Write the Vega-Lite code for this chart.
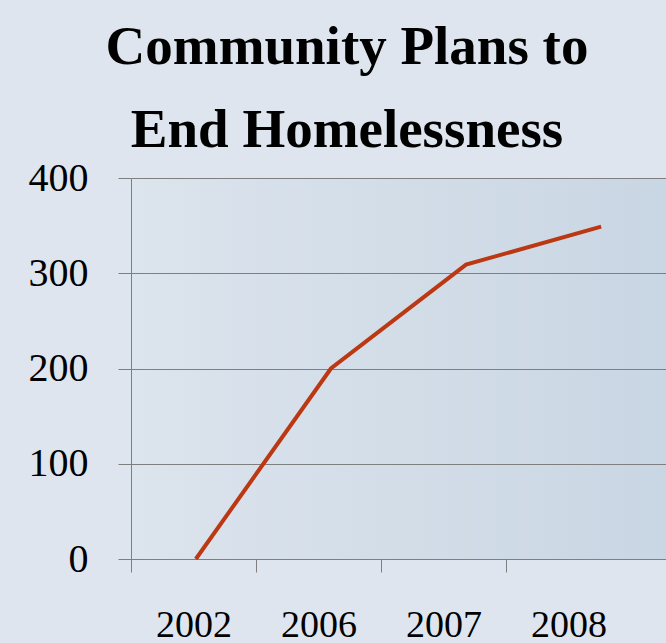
{
  "$schema": "https://vega.github.io/schema/vega-lite/v6.json",
  "width": 535,
  "height": 381,
  "autosize": {"type": "none"},
  "padding": {"left": 131, "top": 178, "right": 0, "bottom": 84},
  "background": "#dee5ee",
  "title": {
    "text": ["Community Plans to", "End Homelessness"],
    "font": "Liberation Serif",
    "fontWeight": "bold",
    "fontSize": 55,
    "lineHeight": 83,
    "color": "#000000",
    "anchor": "middle",
    "frame": "bounds",
    "offset": -1
  },
  "config": {
    "view": {
      "stroke": null,
      "fill": {
        "gradient": "linear",
        "x1": 0, "y1": 0, "x2": 1, "y2": 0,
        "stops": [
          {"offset": 0, "color": "#dce4ed"},
          {"offset": 1, "color": "#c9d6e3"}
        ]
      }
    }
  },
  "data": {
    "values": [
      {"year": "2002", "plans": 0},
      {"year": "2006", "plans": 200},
      {"year": "2007", "plans": 309},
      {"year": "2008", "plans": 349}
    ]
  },
  "layer": [
    {
      "mark": {"type": "point", "opacity": 0},
      "encoding": {
        "x": {
          "field": "year",
          "type": "ordinal",
          "scale": {"type": "band", "paddingInner": 0, "paddingOuter": 0.14, "align": 0},
          "axis": {
            "title": null,
            "labelAngle": 0,
            "tickBand": "extent",
            "tickSize": 13,
            "tickColor": "#7f7f7f",
            "tickOpacity": {"condition": {"test": "!datum.extra && datum.value === '2008'", "value": 0}, "value": 1},
            "domainColor": "#7f7f7f",
            "labelFont": "Liberation Serif",
            "labelFontSize": 38,
            "labelColor": "#000000",
            "labelPadding": 34,
            "labelBaseline": "top"
          }
        },
        "y": {
          "field": "plans",
          "type": "quantitative",
          "scale": {"domain": [0, 400], "nice": false},
          "axis": {
            "title": null,
            "values": [0, 100, 200, 300, 400],
            "grid": true,
            "gridColor": "#7f7f7f",
            "gridOpacity": 1,
            "tickSize": 13,
            "tickColor": "#7f7f7f",
            "domainColor": "#7f7f7f",
            "labelFont": "Liberation Serif",
            "labelFontSize": 40,
            "labelColor": "#000000",
            "labelPadding": 30
          }
        }
      }
    },
    {
      "mark": {"type": "line", "color": "#bb3812", "strokeWidth": 4},
      "encoding": {
        "x": {
          "field": "year",
          "type": "ordinal",
          "scale": {"type": "point", "padding": 0.48},
          "axis": null
        },
        "y": {"field": "plans", "type": "quantitative"}
      }
    }
  ],
  "resolve": {"scale": {"x": "independent"}}
}
